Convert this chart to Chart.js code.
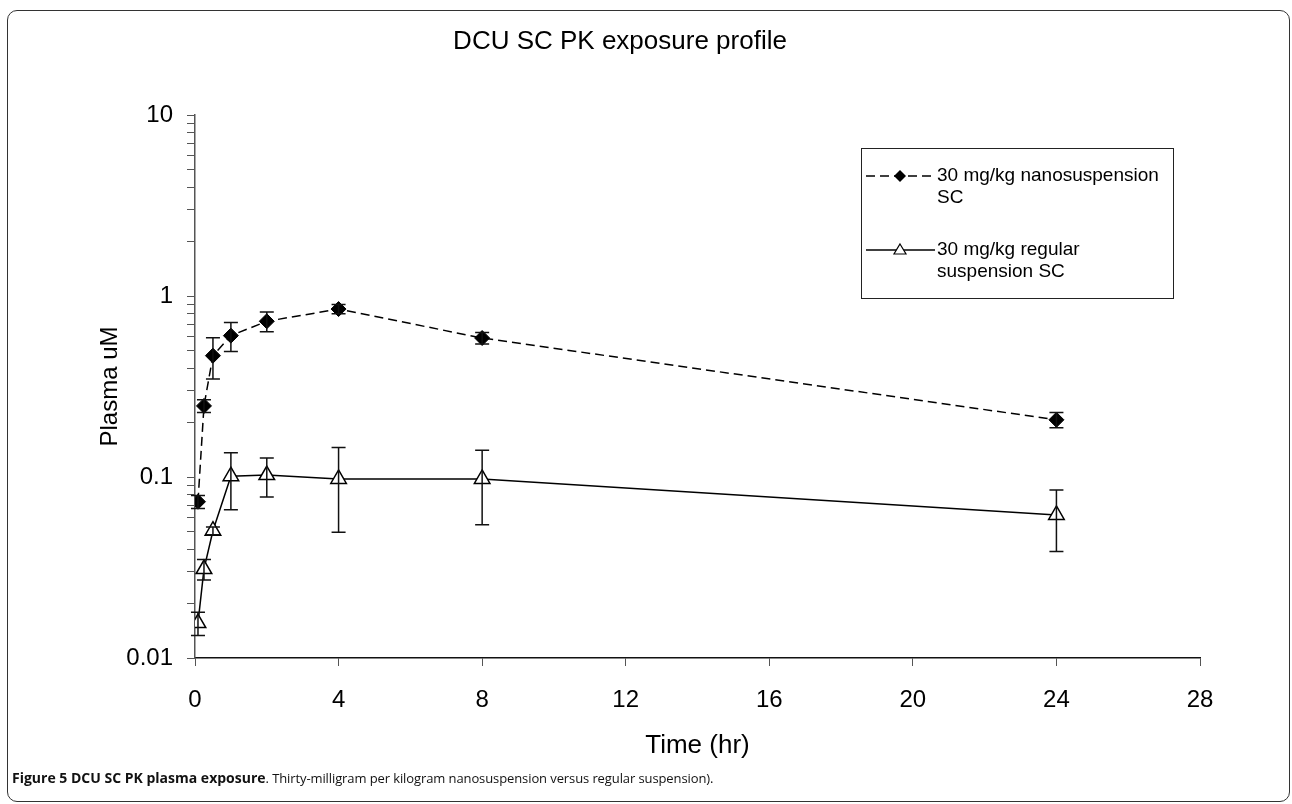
<!DOCTYPE html>
<html lang="en">
<head>
  <meta charset="UTF-8">
  <title>DCU SC PK exposure profile</title>
  <script src="https://cdn.jsdelivr.net/npm/chart.js"></script>
  <style>
    body {
      margin: 0;
      width: 1292px;
      height: 804px;
      overflow: hidden;
      background: #fff;
      font-family: "Liberation Sans", Arial, sans-serif;
    }

    #frame {
      position: absolute;
      left: 7px;
      top: 10px;
      width: 1281px;
      height: 790px;
      border: 1.5px solid #333;
      border-radius: 10px;
    }

    #pk {
      position: absolute;
      left: 0;
      top: 0;
    }

    #caption {
      position: absolute;
      left: 12px;
      top: 768px;
      font-family: "Open Sans", sans-serif;
      font-size: 14px;
      color: #111;
      white-space: nowrap;
    }

    #caption span {
      font-size: 13px;
      letter-spacing: -0.1px;
    }
  </style>
</head>
<body>

  <div id="frame"></div>
  <canvas id="pk" width="1292" height="804"></canvas>
  <div id="caption"><b>Figure 5 DCU SC PK plasma exposure</b><span>. Thirty-milligram per kilogram nanosuspension versus regular suspension).</span></div>

  <script>
    // sampling times (hr)
    const times = [0.083, 0.25, 0.5, 1, 2, 4, 8, 24];

    // 30 mg/kg nanosuspension SC
    const nanoMean = [0.073, 0.247, 0.468, 0.604, 0.725, 0.847, 0.586, 0.207];
    const nanoErr  = [0.006, 0.020, 0.120, 0.110, 0.090, 0.050, 0.043, 0.020];

    // 30 mg/kg regular suspension SC
    const regMean = [0.0156, 0.031, 0.0505, 0.101, 0.1025, 0.0975, 0.0975, 0.0617];
    const regErr  = [0.0023, 0.004, 0.0025, 0.035, 0.025, 0.048, 0.043, 0.023];

    // axis ticks
    const xTicks = [0, 4, 8, 12, 16, 20, 24, 28];
    const yMajorTicks = [0.01, 0.1, 1, 10];
    const yMajorLabels = ['0.01', '0.1', '1', '10'];
    const yMinorTicks = [0.02, 0.03, 0.04, 0.05, 0.06, 0.07, 0.08, 0.09,
                         0.2, 0.3, 0.4, 0.5, 0.6, 0.7, 0.8, 0.9,
                         2, 3, 4, 5, 6, 7, 8, 9];

    const chartTitle = 'DCU SC PK exposure profile';
    const seriesLabels = [
      ['30 mg/kg nanosuspension', 'SC'],
      ['30 mg/kg regular', 'suspension SC']
    ];

    const FONT = '"Liberation Sans", Arial, sans-serif';
    const toPoints = (ys) => times.map((t, i) => ({ x: t, y: ys[i] }));

    // vertical error bars with caps
    const errorBars = {
      id: 'errorBars',
      afterDatasetsDraw(chart) {
        const { ctx, scales: { x, y } } = chart;
        const sets = [[nanoMean, nanoErr], [regMean, regErr]];
        ctx.save();
        ctx.strokeStyle = '#111';
        ctx.lineWidth = 1.5;
        sets.forEach(([m, e]) => {
          times.forEach((t, i) => {
            const px = x.getPixelForValue(t);
            const top = y.getPixelForValue(m[i] + e[i]);
            const bot = y.getPixelForValue(m[i] - e[i]);
            ctx.beginPath();
            ctx.moveTo(px, top); ctx.lineTo(px, bot);
            ctx.moveTo(px - 7, top); ctx.lineTo(px + 7, top);
            ctx.moveTo(px - 7, bot); ctx.lineTo(px + 7, bot);
            ctx.stroke();
          });
        });
        ctx.restore();
      }
    };

    // title (centred a bit left of the plot) and the boxed legend
    const decorations = {
      id: 'decorations',
      afterDraw(chart) {
        const ctx = chart.ctx;
        ctx.save();
        ctx.fillStyle = '#000';
        ctx.font = '26px ' + FONT;
        ctx.textAlign = 'center';
        ctx.textBaseline = 'middle';
        ctx.fillText(chartTitle, 620, 42);

        const bx = 861, by = 148, bw = 312, bh = 150;
        ctx.strokeStyle = '#222';
        ctx.lineWidth = 1;
        ctx.strokeRect(bx + 0.5, by + 0.5, bw, bh);

        const rows = [176, 250];
        rows.forEach((ry, k) => {
          ctx.strokeStyle = '#000';
          ctx.lineWidth = 1.5;
          ctx.setLineDash(k === 0 ? [9, 5] : []);
          ctx.beginPath();
          ctx.moveTo(866, ry); ctx.lineTo(935, ry);
          ctx.stroke();
          ctx.setLineDash([]);

          ctx.beginPath();
          if (k === 0) {
            ctx.moveTo(900, ry - 6); ctx.lineTo(906, ry);
            ctx.lineTo(900, ry + 6); ctx.lineTo(894, ry);
            ctx.closePath();
            ctx.fillStyle = '#000';
            ctx.fill();
          } else {
            ctx.moveTo(900, ry - 6); ctx.lineTo(906, ry + 4);
            ctx.lineTo(894, ry + 4);
            ctx.closePath();
            ctx.fillStyle = '#fff';
            ctx.fill();
            ctx.lineWidth = 1.2;
            ctx.stroke();
          }

          ctx.fillStyle = '#000';
          ctx.font = '19px ' + FONT;
          ctx.textBaseline = 'middle';
          ctx.textAlign = 'left';
          seriesLabels[k].forEach((line, j) => {
            ctx.fillText(line, 937, ry + j * 22);
          });
        });
        ctx.restore();
      }
    };

    Chart.defaults.font.family = FONT;
    Chart.defaults.color = '#000';

    new Chart(document.getElementById('pk'), {
      type: 'line',
      data: {
        datasets: [
          {
            label: seriesLabels[0].join(' '),
            data: toPoints(nanoMean),
            borderColor: '#000',
            borderWidth: 1.5,
            borderDash: [9, 5],
            pointStyle: 'rectRot',
            pointRadius: 7.5,
            pointBackgroundColor: '#000',
            pointBorderColor: '#000',
            pointBorderWidth: 1,
            tension: 0
          },
          {
            label: seriesLabels[1].join(' '),
            data: toPoints(regMean),
            borderColor: '#000',
            borderWidth: 1.5,
            pointStyle: 'triangle',
            pointRadius: 9,
            pointBackgroundColor: '#fff',
            pointBorderColor: '#000',
            pointBorderWidth: 1.5,
            tension: 0
          }
        ]
      },
      options: {
        responsive: false,
        animation: false,
        events: [],
        layout: { padding: { left: 60, right: 92, top: 115, bottom: 0 } },
        plugins: {
          legend: { display: false },
          tooltip: { enabled: false },
          title: { display: false }
        },
        scales: {
          x: {
            type: 'linear',
            min: 0,
            max: 28,
            afterFit: (s) => { s.height = 146; },
            afterBuildTicks: (s) => { s.ticks = xTicks.map(v => ({ value: v })); },
            ticks: { font: { size: 24 }, padding: 20, color: '#000' },
            grid: { drawOnChartArea: false, tickLength: 8, color: '#555' },
            border: { color: '#111', width: 1.5 },
            title: {
              display: true,
              text: 'Time (hr)',
              font: { size: 26 },
              color: '#000',
              padding: { top: 0, bottom: 43 }
            }
          },
          y: {
            type: 'logarithmic',
            min: 0.01,
            max: 10,
            afterFit: (s) => { s.width = 135; },
            afterBuildTicks: (s) => {
              s.ticks = yMajorTicks.concat(yMinorTicks)
                .sort((a, b) => a - b)
                .map(v => ({ value: v, major: yMajorTicks.includes(v) }));
            },
            ticks: {
              autoSkip: false,
              font: { size: 24 },
              padding: 14,
              color: '#000',
              callback: (v) => {
                const i = yMajorTicks.indexOf(v);
                return i >= 0 ? yMajorLabels[i] : '';
              }
            },
            grid: { drawOnChartArea: false, tickLength: 8, color: '#555' },
            border: { color: '#555', width: 1.5 },
            title: {
              display: true,
              text: 'Plasma uM',
              font: { size: 24 },
              color: '#000',
              padding: { top: 36, bottom: 0 }
            }
          }
        }
      },
      plugins: [errorBars, decorations]
    });
  </script>

</body>
</html>
